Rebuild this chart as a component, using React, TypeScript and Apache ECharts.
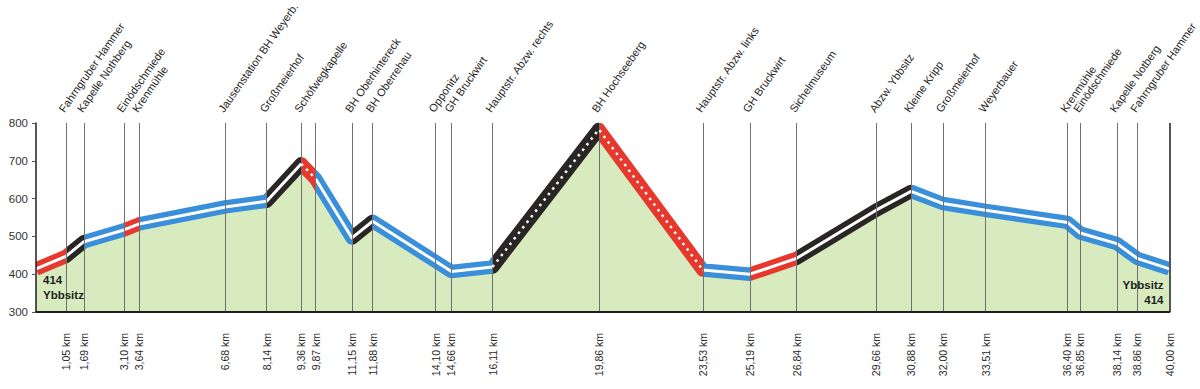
import React, { useEffect, useRef } from "react";
import * as echarts from "echarts";

// distances along the route (km) and elevation (m)
const kmPoints = [0, 1.05, 1.69, 3.10, 3.64, 6.68, 8.14, 9.36, 9.87, 11.15, 11.88, 14.10, 14.66, 16.11, 19.86, 23.53, 25.19, 26.84, 29.66, 30.88, 32.00, 33.51, 36.40, 36.85, 38.14, 38.86, 40.00];
const elevation = [414, 447, 486, 517, 533, 578, 593, 692, 652, 496, 540, 434, 407, 419, 783, 411, 400, 442, 570, 619, 587, 569, 537, 509, 481, 442, 414];

// surface/segment type per interval: r = red, k = black, b = blue
const segType = ["r", "k", "b", "r", "b", "b", "k", "r", "b", "k", "b", "b", "b", "k", "r", "b", "r", "k", "k", "b", "b", "b", "b", "b", "b", "b"];
// intervals drawn with a dotted centre
const dottedSegments = [7, 13, 14];

// waypoint names (top labels)
const waypointKm = [1.05, 1.69, 3.10, 3.64, 6.68, 8.14, 9.36, 9.87, 11.15, 11.88, 14.10, 14.66, 16.11, 19.86, 23.53, 25.19, 26.84, 29.66, 30.88, 32.00, 33.51, 36.40, 36.85, 38.14, 38.86];
const waypointNames = [
  "Fahrngruber Hammer", "Kapelle Nothberg", "Einödschmiede", "Krenmühle", "Jausenstation BH Weyerb.",
  "Großmeierhof", "Schöfwegkapelle", "", "BH Oberhintereck", "BH Oberrehau",
  "Opponitz", "GH Bruckwirt", "Hauptstr. Abzw. rechts", "BH Hochseeberg", "Hauptstr. Abzw. links",
  "GH Bruckwirt", "Sichelmuseum", "Abzw. Ybbsitz", "Kleine Kripp", "Großmeierhof",
  "Weyerbauer", "Krenmühle", "Einödschmiede", "Kapelle Notberg", "Fahrngruber Hammer",
];
// bottom km tick labels
const kmTickValues = [1.05, 1.69, 3.10, 3.64, 6.68, 8.14, 9.36, 9.87, 11.15, 11.88, 14.10, 14.66, 16.11, 19.86, 23.53, 25.19, 26.84, 29.66, 30.88, 32.00, 33.51, 36.40, 36.85, 38.14, 38.86, 40.00];
// elevation axis ticks
const elevationMin = 300;
const elevationMax = 800;
const elevationStep = 100;

const startLabel = { km: 0, elev: 414, text: "414\nYbbsitz" };
const endLabel = { km: 40, elev: 414, text: "Ybbsitz\n414" };

const COLORS: Record<string, string> = { r: "#e7382e", k: "#2a2625", b: "#3a8fdb" };
const FONT = "'Liberation Sans', Arial, sans-serif";

function pathFor(test: (i: number) => boolean) {
  const out: any[] = [];
  let prev = false;
  for (let i = 0; i < kmPoints.length - 1; i++) {
    if (test(i)) {
      if (!prev) {
        if (out.length) out.push([kmPoints[i], "-"]);
        out.push([kmPoints[i], elevation[i]]);
      }
      out.push([kmPoints[i + 1], elevation[i + 1]]);
      prev = true;
    } else prev = false;
  }
  return out;
}

export default function App() {
  const ref = useRef<HTMLDivElement>(null);
  useEffect(() => {
    if (!ref.current) return;
    const chart = echarts.init(ref.current, undefined, { renderer: "svg" });
    const full = kmPoints.map((k, i) => [k, elevation[i]]);
    const pieces = segType.map((t, i) => {
      const p: any = { gte: kmPoints[i], color: COLORS[t] };
      if (i < segType.length - 1) p.lt = kmPoints[i + 1];
      else p.lte = kmPoints[i + 1];
      return p;
    });
    const dotted = new Set(dottedSegments);
    const nameFor = (v: number) => {
      const idx = waypointKm.findIndex((k) => Math.abs(k - v) < 1e-6);
      return idx >= 0 ? waypointNames[idx] : "";
    };
    const topValues = waypointKm.filter((_, i) => waypointNames[i] !== "");
    const annotLabel = {
      show: true,
      position: "inside",
      verticalAlign: "top",
      fontSize: 11.5,
      lineHeight: 15,
      fontWeight: "bold",
      color: "#1e1e1e",
      fontFamily: FONT,
    };

    chart.setOption({
      animation: false,
      grid: { left: 36, right: 30.5, top: 123, bottom: 77, outerBoundsMode: "none", containLabel: false },
      xAxis: [
        {
          type: "value",
          min: 0,
          max: 40,
          position: "bottom",
          z: 10,
          axisLine: { show: true, lineStyle: { color: "#1e1e1e", width: 2 } },
          axisTick: { show: false },
          splitLine: { show: false },
          axisLabel: {
            customValues: kmTickValues,
            rotate: 90,
            margin: 21,
            fontSize: 10.5,
            color: "#2a2a2a",
            fontFamily: FONT,
            formatter: (v: number) => v.toFixed(2).replace(".", ",") + " km",
          },
        },
        {
          type: "value",
          min: 0,
          max: 40,
          position: "top",
          z: 10,
          axisLine: { show: false },
          axisTick: { show: false },
          splitLine: { show: false },
          axisLabel: {
            customValues: topValues,
            rotate: -55,
            margin: 9,
            fontSize: 11,
            color: "#1e1e1e",
            fontFamily: FONT,
            verticalAlign: "bottom",
            formatter: (v: number) => nameFor(v),
          },
        },
      ],
      yAxis: {
        type: "value",
        min: elevationMin,
        max: elevationMax,
        interval: elevationStep,
        z: 10,
        axisLine: { show: true, lineStyle: { color: "#1e1e1e", width: 1.5 } },
        axisTick: { show: true, length: 4, lineStyle: { color: "#555" } },
        splitLine: { show: false },
        axisLabel: { margin: 8, fontSize: 11.5, color: "#333", fontFamily: FONT },
      },
      visualMap: {
        type: "piecewise",
        show: false,
        dimension: 0,
        seriesIndex: 2,
        pieces,
      },
      series: [
        {
          type: "line",
          z: 1,
          data: full,
          showSymbol: false,
          silent: true,
          lineStyle: { width: 0 },
          itemStyle: { color: "#d7ebbf" },
          areaStyle: { color: "#d7ebbf", opacity: 1 },
        },
        {
          type: "line",
          z: 2,
          data: [],
          silent: true,
          markLine: {
            silent: true,
            symbol: ["none", "none"],
            label: { show: false },
            lineStyle: { color: "#707070", width: 1, type: "solid" },
            data: kmTickValues.map((k) =>
              k === 40 ? { xAxis: k, lineStyle: { color: "#1e1e1e", width: 1.5, type: "solid" } } : { xAxis: k }
            ),
          },
        },
        {
          type: "line",
          z: 3,
          data: full,
          showSymbol: false,
          silent: true,
          lineStyle: { width: 13.5, join: "round", cap: "butt" },
          markPoint: {
            symbol: "circle",
            symbolSize: 0,
            silent: true,
            data: [
              {
                coord: [startLabel.km, startLabel.elev],
                label: { ...annotLabel, formatter: startLabel.text, offset: [7, 4], align: "left" },
              },
              {
                coord: [endLabel.km, endLabel.elev],
                label: { ...annotLabel, formatter: endLabel.text, offset: [-6, 9], align: "right" },
              },
            ],
          },
        },
        {
          type: "line",
          z: 4,
          data: pathFor((i) => !dotted.has(i)),
          connectNulls: false,
          showSymbol: false,
          silent: true,
          lineStyle: { width: 3, color: "#ffffff", join: "round", cap: "butt" },
        },
        {
          type: "line",
          z: 5,
          data: pathFor((i) => dotted.has(i)),
          connectNulls: false,
          showSymbol: false,
          silent: true,
          lineStyle: { width: 2.5, color: "#ffffff", type: [2.5, 4.5], join: "round", cap: "butt" },
        },
      ],
    });
    return () => chart.dispose();
  }, []);
  return (
    <div
      ref={ref}
      style={{ position: "fixed", left: 0, top: 0, width: 1200, height: 389, background: "#fff" }}
    />
  );
}
